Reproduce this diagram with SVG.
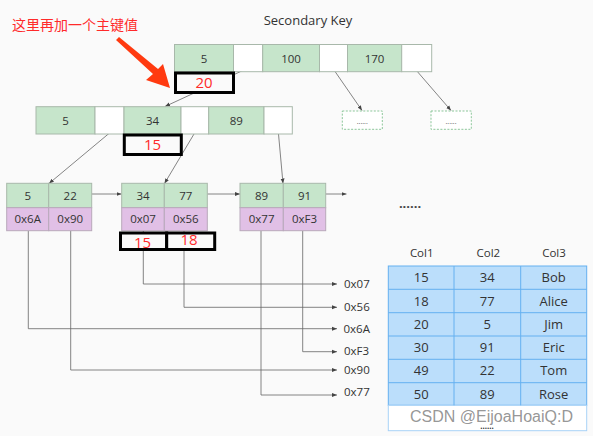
<svg xmlns="http://www.w3.org/2000/svg" width="593" height="436" viewBox="0 0 593 436">
<defs>
<marker id="ah" viewBox="0 0 10 10" refX="10" refY="5" markerWidth="5" markerHeight="5" orient="auto" markerUnits="userSpaceOnUse"><path d="M0,1 L10,5 L0,9 z" fill="#444"/></marker>
</defs>
<style>
text{font-family:"Open Sans","Noto Sans","DejaVu Sans",sans-serif;}
.t{font-size:11.5px;fill:#333;text-anchor:middle;}
.g{fill:#c6e5cb;stroke:#a8b8aa;stroke-width:1;}
.w{fill:#ffffff;stroke:#a8b8aa;stroke-width:1;}
.p{fill:#e1c0e6;stroke:#b8a8bb;stroke-width:1;}
.k{fill:#fafafa;stroke:#000;stroke-width:3;}
.r{font-size:15px;fill:#ff2a2a;text-anchor:middle;}
.ln{fill:none;stroke:#666;stroke-width:0.8;}
.d{fill:#fff;stroke:#8cc79a;stroke-width:1;stroke-dasharray:2,1.5;}
.tb{fill:#bbdefb;stroke:#64b0f0;stroke-width:1;}
.a{font-size:11.5px;fill:#333;}
.c{font-size:13px;fill:#333;text-anchor:middle;}
</style>
<rect x="0" y="0" width="593" height="436" fill="#fafafa"/>
<text x="308" y="25" style="font-size:13px;fill:#333;text-anchor:middle">Secondary Key</text>
<text x="12" y="30" style="font-size:14px;fill:#ff2a2a;font-family:'Noto Sans CJK SC',sans-serif">这里再加一个主键值</text>
<polygon points="116,40 119,37 158,69 163,64 170,88 146,80 153,74" fill="#ff3a10"/>

<g id="connectors">
<line class="ln" x1="246" y1="69" x2="165" y2="106.5" marker-end="url(#ah)"/>
<line class="ln" x1="334" y1="70" x2="362" y2="110.5" marker-end="url(#ah)"/>
<line class="ln" x1="416" y1="70" x2="451" y2="110.5" marker-end="url(#ah)"/>
<line class="ln" x1="109.5" y1="133" x2="49" y2="183.5" marker-end="url(#ah)"/>
<line class="ln" x1="194" y1="134" x2="164.5" y2="183.5" marker-end="url(#ah)"/>
<line class="ln" x1="278.5" y1="134" x2="283" y2="183.5" marker-end="url(#ah)"/>
<line class="ln" x1="91.7" y1="194" x2="121.5" y2="194" marker-end="url(#ah)"/>
<line class="ln" x1="207.3" y1="194" x2="240" y2="194" marker-end="url(#ah)"/>
<line class="ln" x1="325.7" y1="194" x2="346.5" y2="194" marker-end="url(#ah)"/>
<polyline class="ln" points="143.3,230.7 143.3,284 337,284" marker-end="url(#ah)"/>
<polyline class="ln" points="184,230.7 184,307.3 337,307.3" marker-end="url(#ah)"/>
<polyline class="ln" points="28.3,230.7 28.3,328.7 337,328.7" marker-end="url(#ah)"/>
<polyline class="ln" points="302.7,230.7 302.7,351.7 337,351.7" marker-end="url(#ah)"/>
<polyline class="ln" points="70.7,230.7 70.7,370 337,370" marker-end="url(#ah)"/>
<polyline class="ln" points="261,230.7 261,395 337,395" marker-end="url(#ah)"/>
</g>

<g id="root">
<rect class="g" x="174.5" y="44.5" width="59" height="27.2"/>
<rect class="w" x="233.5" y="44.5" width="29.2" height="27.2"/>
<rect class="g" x="262.7" y="44.5" width="56.8" height="27.2"/>
<rect class="w" x="319.5" y="44.5" width="28" height="27.2"/>
<rect class="g" x="347.5" y="44.5" width="54.2" height="27.2"/>
<rect class="w" x="401.7" y="44.5" width="30" height="27.2"/>
<text class="t" x="204" y="62.5">5</text>
<text class="t" x="291" y="62.5">100</text>
<text class="t" x="374.6" y="62.5">170</text>
</g>
<g id="box20">
<rect class="k" x="175.5" y="73" width="58" height="19.5"/>
<text class="r" x="204" y="88">20</text>
</g>
<g id="more1">
<rect class="d" x="342.3" y="111" width="40" height="18.3"/>
<text x="362.3" y="124" style="font-size:7px;fill:#555;text-anchor:middle">......</text>
</g>
<g id="more2">
<rect class="d" x="431" y="111" width="40.3" height="18.3"/>
<text x="451" y="124" style="font-size:7px;fill:#555;text-anchor:middle">......</text>
</g>

<g id="level2">
<rect class="g" x="36" y="106.7" width="59" height="27.3"/>
<rect class="w" x="95" y="106.7" width="29" height="27.3"/>
<rect class="g" x="124" y="106.7" width="57" height="27.3"/>
<rect class="w" x="181" y="106.7" width="27.7" height="27.3"/>
<rect class="g" x="208.7" y="106.7" width="55.3" height="27.3"/>
<rect class="w" x="264" y="106.7" width="28.3" height="27.3"/>
<text class="t" x="65.5" y="124.5">5</text>
<text class="t" x="152.5" y="124.5">34</text>
<text class="t" x="236.3" y="124.5">89</text>
</g>
<g id="box15a">
<rect class="k" x="124.3" y="135" width="57" height="19.5"/>
<text class="r" x="152.5" y="150">15</text>
</g>

<g id="leaf1">
<rect class="g" x="6.7" y="183.3" width="42" height="24.4"/>
<rect class="g" x="48.7" y="183.3" width="43" height="24.4"/>
<rect class="p" x="6.7" y="207.7" width="42" height="23"/>
<rect class="p" x="48.7" y="207.7" width="43" height="23"/>
<text class="t" x="27.7" y="199.5">5</text>
<text class="t" x="70.2" y="199.5">22</text>
<text class="t" x="27.7" y="223">0x6A</text>
<text class="t" x="70.2" y="223">0x90</text>
</g>
<g id="leaf2">
<rect class="g" x="121.7" y="183.3" width="42.6" height="24.4"/>
<rect class="g" x="164.3" y="183.3" width="43" height="24.4"/>
<rect class="p" x="121.7" y="207.7" width="42.6" height="23"/>
<rect class="p" x="164.3" y="207.7" width="43" height="23"/>
<text class="t" x="143" y="199.5">34</text>
<text class="t" x="185.8" y="199.5">77</text>
<text class="t" x="143" y="223">0x07</text>
<text class="t" x="185.8" y="223">0x56</text>
</g>
<g id="leaf3">
<rect class="g" x="240" y="183.3" width="43.3" height="24.4"/>
<rect class="g" x="283.3" y="183.3" width="42.4" height="24.4"/>
<rect class="p" x="240" y="207.7" width="43.3" height="23"/>
<rect class="p" x="283.3" y="207.7" width="42.4" height="23"/>
<text class="t" x="261.6" y="199.5">89</text>
<text class="t" x="304.5" y="199.5">91</text>
<text class="t" x="261.6" y="223">0x77</text>
<text class="t" x="304.5" y="223">0xF3</text>
</g>
<g id="box1518">
<rect class="k" x="120.5" y="233" width="46.2" height="16.5"/>
<rect class="k" x="166.7" y="233" width="48" height="16.5"/>
<text class="r" x="142.5" y="248">15</text>
<text class="r" x="189" y="245">18</text>
</g>
<text x="410" y="208" style="font-size:13px;font-weight:bold;fill:#444;text-anchor:middle">......</text>

<g id="addresses">
<text class="a" x="344" y="288">0x07</text>
<text class="a" x="344" y="311">0x56</text>
<text class="a" x="343.5" y="332.5">0x6A</text>
<text class="a" x="344" y="354.5">0xF3</text>
<text class="a" x="344" y="374">0x90</text>
<text class="a" x="344" y="396">0x77</text>
</g>

<g id="table">
<text class="t" x="421.7" y="257">Col1</text>
<text class="t" x="488.3" y="257">Col2</text>
<text class="t" x="554" y="257">Col3</text>
<rect class="tb" x="388.3" y="266" width="198.4" height="139.3"/>
<rect x="388.3" y="405.3" width="198.4" height="25.4" fill="#fff" stroke="#a8d2f7" stroke-width="1"/>
<g stroke="#64b0f0" stroke-width="1">
<line x1="454" y1="266" x2="454" y2="405.3"/>
<line x1="520.7" y1="266" x2="520.7" y2="405.3"/>
<line x1="388.3" y1="289.3" x2="586.7" y2="289.3"/>
<line x1="388.3" y1="312.7" x2="586.7" y2="312.7"/>
<line x1="388.3" y1="336" x2="586.7" y2="336"/>
<line x1="388.3" y1="359.3" x2="586.7" y2="359.3"/>
<line x1="388.3" y1="382.7" x2="586.7" y2="382.7"/>
</g>
<text class="c" x="421.2" y="282">15</text>
<text class="c" x="487.3" y="282">34</text>
<text class="c" x="553.7" y="282">Bob</text>
<text class="c" x="421.2" y="305.5">18</text>
<text class="c" x="487.3" y="305.5">77</text>
<text class="c" x="553.7" y="305.5">Alice</text>
<text class="c" x="421.2" y="328.8">20</text>
<text class="c" x="487.3" y="328.8">5</text>
<text class="c" x="553.7" y="328.8">Jim</text>
<text class="c" x="421.2" y="352">30</text>
<text class="c" x="487.3" y="352">91</text>
<text class="c" x="553.7" y="352">Eric</text>
<text class="c" x="421.2" y="375.4">49</text>
<text class="c" x="487.3" y="375.4">22</text>
<text class="c" x="553.7" y="375.4">Tom</text>
<text class="c" x="421.2" y="398.7">50</text>
<text class="c" x="487.3" y="398.7">89</text>
<text class="c" x="553.7" y="398.7">Rose</text>
<text x="487" y="429" style="font-size:8px;font-weight:bold;fill:#333;text-anchor:middle">......</text>
</g>
<text x="410" y="421.5" style="font-family:'Liberation Sans',Arial,sans-serif;font-size:16px;fill:#8a8a8a;fill-opacity:0.9">CSDN @EijoaHoaiQ:D</text>
</svg>
